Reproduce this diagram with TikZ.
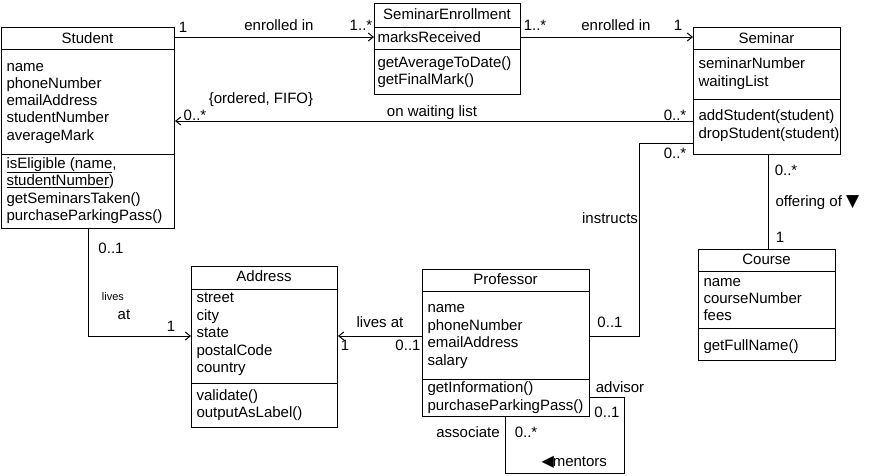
\documentclass[tikz,border=0pt]{standalone}
\usepackage{fontspec}
\setmainfont{Liberation Sans}
\newfontfamily\symfont{DejaVu Sans}
\usetikzlibrary{arrows.meta}
\begin{document}
\begin{tikzpicture}[x=1pt,y=-1pt, line width=1pt,
  box/.style={draw, rectangle, inner sep=0, anchor=north west},
  txt/.style={anchor=base west, inner sep=0, font=\fontsize{15}{18}\selectfont},
  ttl/.style={anchor=base, inner sep=0, font=\fontsize{15}{18}\selectfont},
  lbl/.style={inner sep=0, font=\fontsize{15}{18}\selectfont},
  nav/.style={-{Straight Barb[length=5pt,width=8pt]}}]
\useasboundingbox (0,0) rectangle (872,475);

% ---------- Student ----------
\node[box, minimum width=173pt, minimum height=201pt] (student) at (1,27) {};
\draw (student.west |- 0,49) -- (student.east |- 0,49);
\draw (student.west |- 0,154) -- (student.east |- 0,154);
\node[ttl] (student-t) at (87.5,43) {Student};
\foreach \t [count=\i from 0] in {name,phoneNumber,emailAddress,studentNumber,averageMark}
  \node[txt] (student-a\i) at (6,71+17.3*\i) {\t};
\foreach \t [count=\i from 0] in {{\underline{isEligible (name},},{\underline{studentNumber})},getSeminarsTaken(),purchaseParkingPass()}
  \node[txt] (student-m\i) at (6,168+17.5*\i) {\t};

% ---------- SeminarEnrollment ----------
\node[box, minimum width=146pt, minimum height=91pt] (se) at (374,3) {};
\draw (se.west |- 0,27) -- (se.east |- 0,27);
\draw (se.west |- 0,49) -- (se.east |- 0,49);
\node[ttl] (se-t) at (447,19.5) {SeminarEnrollment};
\node[txt] (se-a0) at (377,42) {marksReceived};
\node[txt] (se-m0) at (377,67) {getAverageToDate()};
\node[txt] (se-m1) at (377,84.5) {getFinalMark()};

% ---------- Seminar ----------
\node[box, minimum width=147pt, minimum height=127pt] (seminar) at (693,27) {};
\draw (seminar.west |- 0,49) -- (seminar.east |- 0,49);
\draw (seminar.west |- 0,99) -- (seminar.east |- 0,99);
\node[ttl] (seminar-t) at (766.5,43.4) {Seminar};
\node[txt] (seminar-a0) at (698,68.5) {seminarNumber};
\node[txt] (seminar-a1) at (698,86) {waitingList};
\node[txt] (seminar-m0) at (698,120.5) {addStudent(student)};
\node[txt] (seminar-m1) at (698,138) {dropStudent(student)};

% ---------- Course ----------
\node[box, minimum width=137pt, minimum height=111pt] (course) at (698,249) {};
\draw (course.west |- 0,271) -- (course.east |- 0,271);
\draw (course.west |- 0,328) -- (course.east |- 0,328);
\node[ttl] (course-t) at (766.5,264.7) {Course};
\foreach \t [count=\i from 0] in {name,courseNumber,fees}
  \node[txt] (course-a\i) at (703,286+17.3*\i) {\t};
\node[txt] (course-m0) at (703,350) {getFullName()};

% ---------- Professor ----------
\node[box, minimum width=167pt, minimum height=147pt] (professor) at (422,269) {};
\draw (professor.west |- 0,291) -- (professor.east |- 0,291);
\draw (professor.west |- 0,379) -- (professor.east |- 0,379);
\node[ttl] (professor-t) at (505.5,284.7) {Professor};
\foreach \t [count=\i from 0] in {name,phoneNumber,emailAddress,salary}
  \node[txt] (professor-a\i) at (427,312.5+17.5*\i) {\t};
\node[txt] (professor-m0) at (427,392.5) {getInformation()};
\node[txt] (professor-m1) at (427,410) {purchaseParkingPass()};

% ---------- Address ----------
\node[box, minimum width=146pt, minimum height=161pt] (address) at (191,266) {};
\draw (address.west |- 0,289) -- (address.east |- 0,289);
\draw (address.west |- 0,383) -- (address.east |- 0,383);
\node[ttl] (address-t) at (264,281.4) {Address};
\foreach \t [count=\i from 0] in {street,city,state,postalCode,country}
  \node[txt] (address-a\i) at (196,302.5+17.5*\i) {\t};
\node[txt] (address-m0) at (196,400) {validate()};
\node[txt] (address-m1) at (196,417.5) {outputAsLabel()};

% ---------- Connectors ----------
\draw[nav] (student.east |- 0,37) -- (se.west |- 0,37);
\draw[nav] (se.east |- 0,37) -- (seminar.west |- 0,37);
\draw[nav] (seminar.west |- 0,121) -- (student.east |- 0,121);
\draw (seminar.west |- 0,143) -| (639,336) -- (professor.east |- 0,336);
\draw (seminar.south -| 768,0) -- (course.north -| 768,0);
\draw[nav] (student.south -| 88,0) |- (address.west |- 0,336);
\draw[nav] (professor.west |- 0,336) -- (address.east |- 0,336);
\draw (professor.east |- 0,397) -| (624,473.5) -| (professor.south -| 505,0);

% ---------- Labels ----------
\node[lbl] (l1) at (183,27) {1};
\node[lbl] (l2) at (279,25) {enrolled in};
\node[lbl] (l3) at (361,25) {1..*};
\node[lbl] (l4) at (535,25) {1..*};
\node[lbl] (l5) at (616,25) {enrolled in};
\node[lbl] (l6) at (678,25) {1};
\node[lbl] (l7) at (261,100) {\{ordered, FIFO\}};
\node[lbl] (l8) at (195,115) {0..*};
\node[lbl] (l9) at (432,113) {on waiting list};
\node[lbl] (l10) at (675,115) {0..*};
\node[lbl] (l11) at (675,153) {0..*};
\node[lbl] (l12) at (610,218) {instructs};
\node[lbl] (l13) at (786,170) {0..*};
\node[lbl, anchor=west] (l14) at (775,203) {offering of {\symfont\fontsize{17}{17}\selectfont ▼}};
\node[lbl] (l15) at (780,237) {1};
\node[lbl] (l16) at (111,248) {0..1};
\node[lbl, font=\fontsize{11}{12}\selectfont] (l17) at (113,297) {lives};
\node[lbl] (l18) at (124,315) {at};
\node[lbl] (l19) at (171,326) {1};
\node[lbl] (l20) at (380,322) {lives at};
\node[lbl] (l21) at (345,345) {1};
\node[lbl] (l22) at (408,345) {0..1};
\node[lbl] (l23) at (610,322) {0..1};
\node[lbl] (l24) at (620,387) {advisor};
\node[lbl] (l25) at (607,412) {0..1};
\node[lbl] (l26) at (468,432) {associate};
\node[lbl] (l27) at (526,432) {0..*};
\node[lbl, anchor=west] (l28) at (541,462) {{\symfont\fontsize{16}{16}\selectfont ◀}\kern-1pt mentors};
\end{tikzpicture}
\end{document}
